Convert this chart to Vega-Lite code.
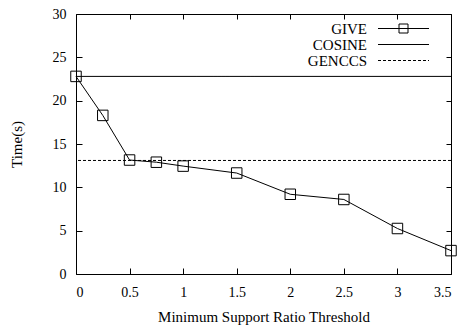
{
  "$schema": "https://vega.github.io/schema/vega-lite/v6.json",
  "width": 375,
  "height": 260,
  "autosize": {"type": "none"},
  "padding": {"left": 76, "top": 14, "right": 12, "bottom": 54},
  "background": "white",
  "config": {
    "view": {"stroke": "black", "strokeWidth": 1},
    "font": "Liberation Serif",
    "axis": {
      "grid": false,
      "domain": false,
      "labelColor": "black",
      "titleColor": "black",
      "labelFont": "Liberation Serif",
      "titleFont": "Liberation Serif",
      "labelFontSize": 14,
      "titleFontSize": 15,
      "titleFontWeight": "normal"
    },
    "legend": {
      "labelFont": "Liberation Serif",
      "labelFontSize": 15,
      "labelColor": "black",
      "labelLimit": 0,
      "padding": 0,
      "symbolSize": 100,
      "symbolStrokeWidth": 1,
      "symbolStrokeColor": "black",
      "symbolFillColor": "transparent",
      "labelAlign": "right",
      "labelOffset": -44,
      "rowPadding": 0
    }
  },
  "datasets": {
    "give": [
      {"threshold": 0, "time": 22.8, "series": "GIVE"},
      {"threshold": 0.25, "time": 18.3, "series": "GIVE"},
      {"threshold": 0.5, "time": 13.15, "series": "GIVE"},
      {"threshold": 0.75, "time": 12.9, "series": "GIVE"},
      {"threshold": 1, "time": 12.45, "series": "GIVE"},
      {"threshold": 1.5, "time": 11.65, "series": "GIVE"},
      {"threshold": 2, "time": 9.2, "series": "GIVE"},
      {"threshold": 2.5, "time": 8.6, "series": "GIVE"},
      {"threshold": 3, "time": 5.25, "series": "GIVE"},
      {"threshold": 3.5, "time": 2.7, "series": "GIVE"}
    ],
    "baselines": [
      {"series": "COSINE", "time": 22.8},
      {"series": "GENCCS", "time": 13.1}
    ],
    "legendItems": [
      {"series": "GIVE"},
      {"series": "COSINE"},
      {"series": "GENCCS"}
    ]
  },
  "layer": [
    {
      "data": {"name": "give"},
      "mark": {"type": "line", "color": "black", "strokeWidth": 1},
      "encoding": {
        "x": {
          "field": "threshold", "type": "quantitative",
          "scale": {"domain": [0, 3.5], "nice": false},
          "axis": {"orient": "bottom", "values": [0, 0.5, 1, 1.5, 2, 2.5, 3, 3.5], "format": "~g", "title": "Minimum Support Ratio Threshold", "offset": -6, "ticks": true, "tickSize": 6, "tickColor": "#000000", "tickWidth": 1, "tickOpacity": 1, "labelPadding": 11, "titlePadding": 10}
        },
        "y": {
          "field": "time", "type": "quantitative",
          "scale": {"domain": [0, 30], "nice": false},
          "axis": {"orient": "left", "values": [0, 5, 10, 15, 20, 25, 30], "title": "Time(s)", "offset": -6, "ticks": true, "tickSize": 6, "tickColor": "#000000", "tickWidth": 1, "tickOpacity": 1, "labelPadding": 10, "titlePadding": 28}
        }
      }
    },
    {
      "data": {"name": "give"},
      "mark": {"type": "point", "shape": "square", "filled": false, "color": "black", "size": 110, "strokeWidth": 1, "opacity": 1},
      "encoding": {
        "x": {
          "field": "threshold", "type": "quantitative",
          "axis": {"orient": "top", "values": [0, 0.5, 1, 1.5, 2, 2.5, 3, 3.5], "labels": false, "title": null, "offset": -5, "ticks": true, "tickSize": 5, "tickColor": "#000000", "tickWidth": 1, "tickOpacity": 1}
        },
        "y": {
          "field": "time", "type": "quantitative",
          "axis": {"orient": "right", "values": [0, 5, 10, 15, 20, 25, 30], "labels": false, "title": null, "offset": -5, "ticks": true, "tickSize": 5, "tickColor": "#000000", "tickWidth": 1, "tickOpacity": 1}
        }
      }
    },
    {
      "data": {"name": "baselines"},
      "mark": {"type": "rule", "color": "black", "strokeWidth": 1},
      "encoding": {
        "y": {"field": "time", "type": "quantitative", "axis": null},
        "strokeDash": {
          "field": "series", "type": "nominal",
          "scale": {"domain": ["GIVE", "COSINE", "GENCCS"], "range": [[1, 0], [1, 0], [3, 2]]},
          "legend": {"title": null, "orient": "none", "legendX": 320, "legendY": 7}
        }
      }
    },
    {
      "data": {"name": "legendItems"},
      "mark": {"type": "point", "opacity": 0, "filled": false, "color": "black", "size": 100},
      "encoding": {
        "shape": {
          "field": "series", "type": "nominal",
          "scale": {"domain": ["GIVE", "COSINE", "GENCCS"], "range": ["M-5.1,0H5.1M-0.9,-0.9H0.9V0.9H-0.9Z", "M-5.1,0H5.1", "M-5.1,0H5.1"]},
          "legend": {"title": null, "orient": "none", "legendX": 320, "legendY": 7}
        },
        "strokeDash": {
          "field": "series", "type": "nominal",
          "scale": {"domain": ["GIVE", "COSINE", "GENCCS"], "range": [[1, 0], [1, 0], [3, 2]]},
          "legend": {"title": null, "orient": "none", "legendX": 320, "legendY": 7}
        }
      }
    }
  ],
  "resolve": {"axis": {"x": "independent", "y": "independent"}}
}
